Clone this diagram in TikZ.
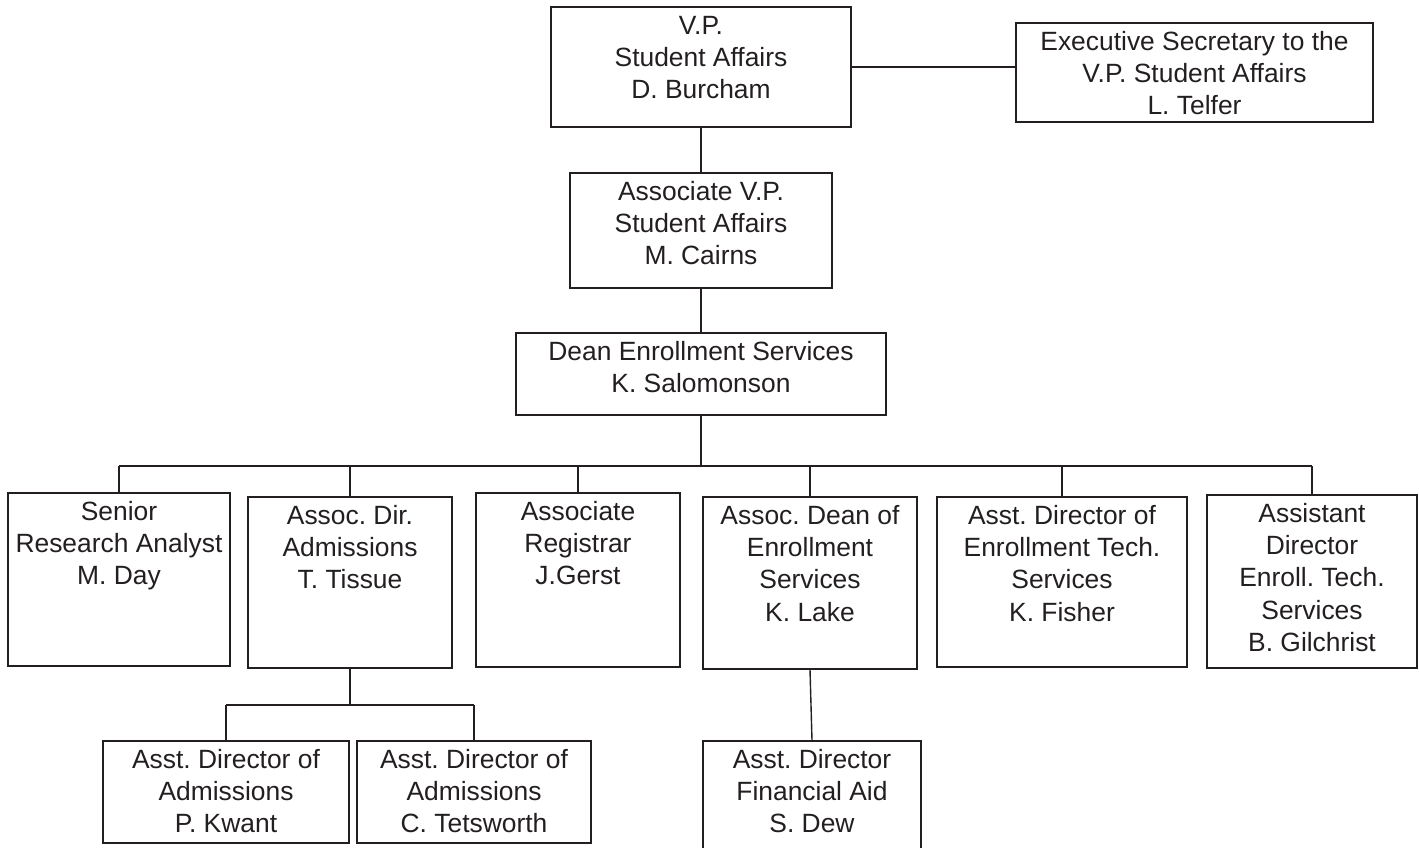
\documentclass[tikz,border=0pt]{standalone}
\usepackage{fontspec}
\setmainfont{Liberation Sans}
\frenchspacing
\definecolor{ink}{RGB}{35,31,32}
\newcommand{\orgbox}[6]{%
  \node[obox] (#1) at ({(#2+#4)/2},{(#3+#5)/2})
    {\parbox[c][\dimexpr#5pt-#3pt\relax][t]{\dimexpr#4pt-#2pt\relax}{\centering\frenchspacing\rule{0pt}{27pt}#6\par}};}
\begin{document}
\begin{tikzpicture}[x=1pt,y=-1pt,
  obox/.style={draw=ink, line width=1.4pt, inner sep=0pt, text=ink,
    font=\fontsize{26.4pt}{32.4pt}\selectfont},
  link/.style={draw=ink, line width=1.4pt}]
\useasboundingbox (0,0) rectangle (1419,847);
\fill[white] (0,0) rectangle (1419,847);
\orgbox{vp}{551}{7}{851}{127}{V.P.\\Student Affairs\\D. Burcham}
\orgbox{exec}{1016}{23}{1373}{122}{Executive Secretary to the\\V.P. Student Affairs\\L. Telfer}
\orgbox{avp}{570}{173}{832}{288}{Associate V.P.\\Student Affairs\\M. Cairns}
\orgbox{dean}{516}{333}{886}{415}{Dean Enrollment Services\\K. Salomonson}
\orgbox{sra}{8}{493}{230}{666}{Senior\\Research Analyst\\M. Day}
\orgbox{adm}{248}{497}{452}{668}{Assoc. Dir.\\Admissions\\T. Tissue}
\orgbox{reg}{476}{493}{680}{667}{Associate\\Registrar\\J.Gerst}
\orgbox{adean}{703}{497}{917}{669}{Assoc. Dean of\\Enrollment\\Services\\K. Lake}
\orgbox{aden}{937}{497}{1187}{667}{Asst. Director of\\Enrollment Tech.\\Services\\K. Fisher}
\orgbox{asd}{1207}{495}{1417}{668}{Assistant\\Director\\Enroll. Tech.\\Services\\B. Gilchrist}
\orgbox{kwant}{103}{741}{349}{843}{Asst. Director of\\Admissions\\P. Kwant}
\orgbox{tets}{357}{741}{591}{843}{Asst. Director of\\Admissions\\C. Tetsworth}
\orgbox{dew}{703}{741}{921}{880}{Asst. Director\\Financial Aid\\S. Dew}
% connectors
\draw[link] (vp.east) -- (vp.east -| exec.west);
\draw[link] (vp.south) -- (vp.south |- avp.north);
\draw[link] (avp.south) -- (avp.south |- dean.north);
\coordinate (bus) at (0,466);
\draw[link] (dean.south) -- (dean.south |- bus);
\draw[link] (sra.north |- bus) -- (asd.north |- bus);
\foreach \n in {sra,adm,reg,adean,aden,asd}
  \draw[link] (\n.north) -- (\n.north |- bus);
\coordinate (sub) at (0,705);
\draw[link] (adm.south) -- (adm.south |- sub);
\draw[link] (kwant.north |- sub) -- (tets.north |- sub);
\draw[link] (kwant.north) -- (kwant.north |- sub);
\draw[link] (tets.north) -- (tets.north |- sub);
\draw[link] (adean.south) -- (dew.north);
\end{tikzpicture}
\end{document}
